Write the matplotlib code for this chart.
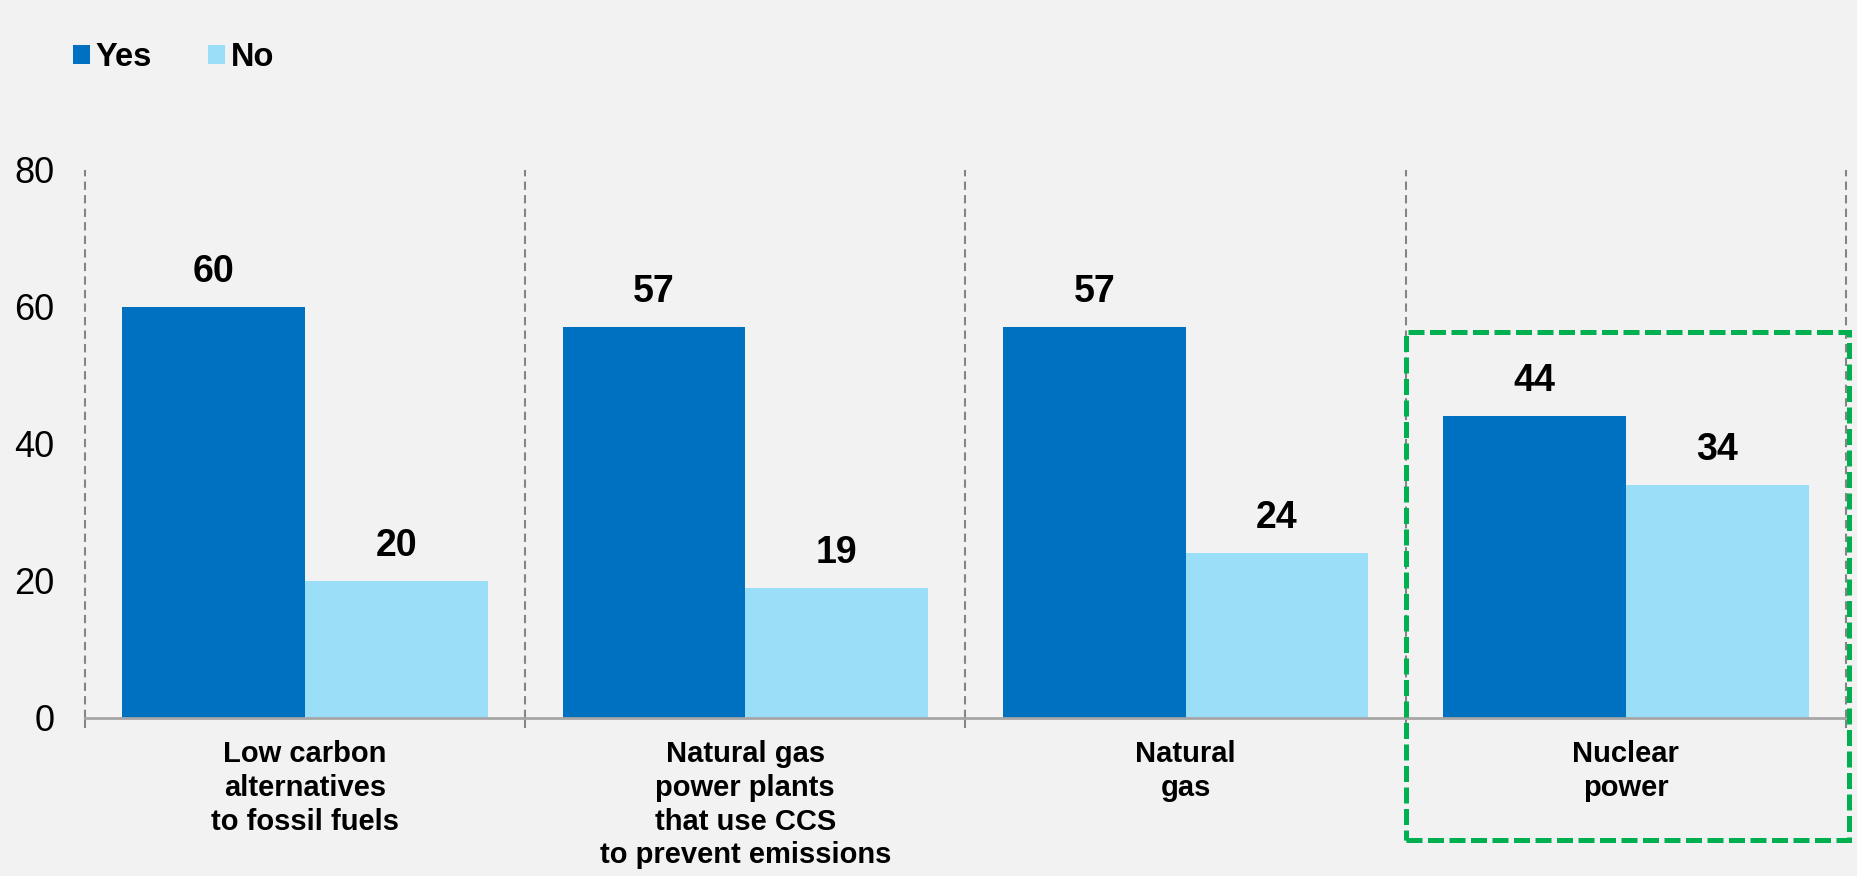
import matplotlib.pyplot as plt
import numpy as np
from matplotlib.patches import Patch, Rectangle

# survey answers (% of respondents)
categories = ["Low carbon\nalternatives\nto fossil fuels",
              "Natural gas\npower plants\nthat use CCS\nto prevent emissions",
              "Natural\ngas",
              "Nuclear\npower"]
yes_values = [60, 57, 57, 44]
no_values = [20, 19, 24, 34]
y_ticks = [0, 20, 40, 60, 80]

YES_COLOR = "#0070C0"
NO_COLOR = "#9BDEF7"
BG = "#F2F2F2"

plt.rcParams["font.family"] = ["Liberation Sans", "DejaVu Sans"]

fig = plt.figure(figsize=(18.58, 8.76), dpi=100, facecolor=BG)
ax = fig.add_axes([0.0457, 0.1804, 0.9478, 0.6261])
ax.set_facecolor(BG)

n = len(categories)
centers = np.arange(n) + 0.5
width = 0.415

bars_yes = ax.bar(centers - width / 2, yes_values, width, color=YES_COLOR, zorder=3)
bars_no = ax.bar(centers + width / 2, no_values, width, color=NO_COLOR, zorder=3)

# value labels above each bar
for bars, vals in ((bars_yes, yes_values), (bars_no, no_values)):
    for b, v in zip(bars, vals):
        ax.annotate(f"{v}", (b.get_x() + b.get_width() / 2, v),
                    xytext=(0, 17), textcoords="offset pixels",
                    ha="center", va="bottom", fontsize=27, fontweight="bold")

ax.set_xlim(0, n)
ax.set_ylim(0, 80)

# dashed separators between categories
ax.vlines(np.arange(n + 1), 0, 80, colors="#858585", linewidth=1.5,
          linestyles=(0, (4, 2.5)), zorder=1, clip_on=False)

for side in ("top", "right", "left"):
    ax.spines[side].set_visible(False)
ax.spines["bottom"].set_color("#A6A6A6")
ax.spines["bottom"].set_linewidth(2)
ax.spines["bottom"].set_zorder(4)

ax.set_yticks(y_ticks)
ax.tick_params(axis="y", length=0, pad=22, labelsize=26)

ax.set_xticks(np.arange(n + 1))
ax.set_xticklabels([])
ax.tick_params(axis="x", which="major", length=7, width=1.5, color="#858585")
ax.set_xticks(centers, minor=True)
ax.set_xticklabels(categories, minor=True, fontsize=21, fontweight="bold",
                   linespacing=1.26)
ax.tick_params(axis="x", which="minor", length=0, pad=16)

# highlight box around the nuclear group
ax.add_patch(Rectangle((3.0, -17.8), 1.007, 74.1, fill=False,
                       edgecolor="#00B050", linewidth=3.6, linestyle=(0, (3.2, 1.1)),
                       clip_on=False, zorder=5))

handles = [Patch(facecolor=YES_COLOR, label="Yes"), Patch(facecolor=NO_COLOR, label="No")]
fig.legend(handles=handles, loc="center left", bbox_to_anchor=(73 / 1858, 1 - 58 / 876),
           ncol=2, frameon=False, prop={"size": 23.5, "weight": "bold"},
           handlelength=0.52, handleheight=0.52, handletextpad=0.18,
           columnspacing=1.7, borderpad=0, borderaxespad=0)

fig.savefig("out.png", dpi=100, facecolor=BG)
